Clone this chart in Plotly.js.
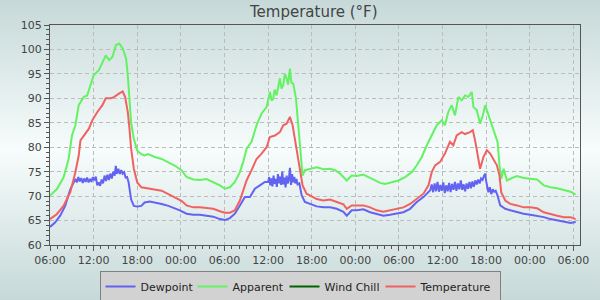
<!DOCTYPE html>
<html>
<head>
<meta charset="utf-8">
<script src="https://cdn.plot.ly/plotly-3.0.1.min.js"></script>
<style>
  html, body { margin: 0; padding: 0; }
  body { width: 600px; height: 300px; background: linear-gradient(to bottom, #c6d9d8 0%, #f7fcfc 50%, #c6d9d8 100%); }
  #chart { width: 600px; height: 300px; }
</style>
</head>
<body>
<div id="chart"></div>
<script>
// Hours since the first 06:00, and readings in °F
const startTime = '2023-07-10 06:00';

const dewHours = [0,0.7,1.4,2.09,2.79,3.49,3.7,3.9,4.1,4.3,4.5,4.7,4.9,5.1,5.3,5.5,5.7,5.9,6.1,6.3,6.5,6.7,6.9,7.1,7.3,7.5,7.7,7.9,8.1,8.3,8.5,8.7,8.9,9.05,9.2,9.4,9.6,9.8,10.0,10.2,10.4,10.6,10.8,11.16,11.53,12.0,12.56,13.02,13.72,14.42,15.35,16.28,17.21,17.86,18.78,19.7,20.61,21.53,22.45,23.37,24.06,24.74,25.43,26.12,26.81,27.5,28.18,28.87,29.56,30.0,30.15,30.3,30.45,30.6,30.75,30.9,31.05,31.2,31.35,31.5,31.65,31.8,31.95,32.1,32.25,32.4,32.55,32.7,32.85,33.0,33.15,33.3,33.45,33.6,33.75,33.9,34.05,34.3,34.61,35.06,35.75,36.69,37.61,38.52,39.44,40.36,40.82,41.5,42.19,43.11,44.03,44.94,45.86,46.78,47.7,48.61,49.53,50.45,51.37,52.1,52.3,52.5,52.7,52.9,53.1,53.3,53.5,53.7,53.9,54.1,54.3,54.5,54.7,54.9,55.1,55.3,55.5,55.7,55.9,56.1,56.3,56.5,56.7,56.9,57.1,57.3,57.5,57.7,57.9,58.1,58.3,58.5,58.7,58.9,59.1,59.3,59.5,59.7,59.85,60.0,60.1,60.3,60.5,60.7,60.9,61.1,61.3,61.56,61.93,62.62,63.31,64.23,65.15,66.07,67.0,67.92,68.84,69.76,70.68,71.6,72.3];
const dewVals  = [63.7,64.6,66,68,71.4,73.5,72.8,73.9,73.0,73.7,72.7,73.6,72.9,73.8,72.8,73.5,72.9,73.9,73.2,74.0,72.2,72.8,72.1,73.4,72.6,74.2,73.1,74.4,73.3,74.6,73.6,75.0,74.2,76.2,74.6,75.6,74.5,75.3,74.6,74.9,73.8,73.9,72.9,69.3,68,67.9,68,68.7,68.9,68.7,68.4,68,67.5,67.1,66.4,66.2,66.2,66,65.8,65.3,65.1,65.5,66.4,68.1,69.8,69.8,71.5,72.2,72.9,72.9,73.9,72.2,73.6,72.0,74.2,72.5,73.5,71.9,74.5,72.6,74.0,72.3,75.0,72.4,73.8,71.8,74.2,72.6,73.4,75.8,72.3,74.5,72.8,73.9,72.6,73.5,72.4,72.6,70.2,68.8,68.4,67.9,67.7,67.7,67.4,66.8,66,67.1,67.1,67.3,66.7,66.4,66,66.2,66.4,66.7,67.4,68.8,69.8,70.9,71.2,72.4,70.8,72.6,71.0,72.9,70.9,72.3,71.1,72.8,70.6,72.2,71.0,72.7,70.8,72.5,71.3,72.9,71.1,72.6,71.4,73.2,71.3,72.4,71.0,72.6,71.5,72.9,71.6,73.0,71.9,73.2,72.4,73.4,72.6,73.6,73.3,74.2,74.6,73.0,72.2,70.8,71.8,70.4,71.4,70.9,71.1,70.1,68.1,67.4,67.1,66.7,66.4,66.2,66,65.7,65.3,65,64.7,64.5,64.7];

const appHours = [0,0.93,1.86,2.56,3.02,3.49,3.95,4.65,5.12,5.58,6.0,6.74,7.21,7.67,8.14,8.6,9.07,9.53,10.0,10.47,10.7,10.93,11.16,11.53,12.0,12.56,13.02,13.49,14.42,15.35,16.28,17.21,18.14,18.78,19.7,20.61,21.53,22.45,23.37,24.06,24.74,25.43,26.12,26.58,27.04,27.72,28.41,29.1,29.79,30.25,30.5,30.71,30.9,31.17,31.4,31.62,31.85,32.08,32.3,32.54,32.75,33.0,33.2,33.46,33.83,34.15,34.47,34.74,35.06,35.75,36.69,37.61,38.52,39.21,39.9,40.82,41.5,42.19,43.11,43.8,44.49,45.4,46.09,47.01,47.93,48.84,49.76,50.45,51.14,51.83,52.51,53.2,53.89,54.32,54.78,55.24,55.71,56.17,56.63,57.09,57.55,58.01,58.24,58.7,59.16,59.53,59.85,60.31,60.77,61.24,61.56,61.83,62.06,62.39,62.85,63.54,64.23,65.15,66.07,66.99,67.92,68.84,69.76,70.68,71.6,72.3];
const appVals  = [70.1,71.4,73.8,77.6,82.4,84.5,88.6,90.3,90.6,93,94.7,95.8,97.5,98.8,97.8,98.5,100.9,101.2,100.2,98.1,94.7,90,85,81.7,79.3,78.6,78.3,78.6,78,77.6,76.9,76.2,75.2,73.9,73.4,73.3,73.5,72.9,72.2,71.5,71.8,72.9,74.9,77,79.7,81.1,84.5,86.9,88.2,91.3,89.5,90,91.8,90.6,92.5,94.1,92.0,92.7,95.0,94.1,92.8,96.1,93.2,93,90,84.5,79,74.2,75.3,75.6,75.9,75.5,75.6,75.3,74.6,73.2,74.2,74.1,74.4,73.9,73.4,72.7,72.5,72.9,73.2,73.9,74.9,76.3,78,80.4,82.4,84.5,85.5,84.5,87.2,88.6,86.5,90.3,89.6,90.6,90.3,91.3,88.2,87.6,84.8,86.5,88.6,86.5,84.5,82.4,81.1,76.3,73.5,75.6,73.2,73.7,74.1,73.7,73.5,73.4,72.2,71.8,71.6,71.2,70.9,70.3];

const tempHours = [0,0.93,1.86,2.79,3.49,3.95,4.19,4.88,5.35,5.81,6.51,7.21,7.67,8.37,8.84,9.53,10.0,10.33,10.7,10.93,11.16,11.53,12.0,12.56,13.49,14.42,15.35,16.28,17.21,18.14,18.78,19.7,20.61,21.53,22.45,23.37,24.06,24.74,25.43,26.12,26.58,27.04,27.72,28.41,29.1,29.79,30.25,30.94,31.62,32.08,32.54,33.0,33.37,33.69,34.01,34.38,34.74,35.29,36.21,36.69,37.61,38.52,39.44,40.36,40.82,41.5,42.19,43.11,44.03,44.94,45.86,46.78,47.7,48.61,49.53,50.45,51.37,52.06,52.51,52.97,53.66,54.32,55.01,55.47,55.94,56.63,57.09,57.78,58.15,58.47,58.79,59.16,59.62,60.08,60.54,61.0,61.47,61.83,62.06,62.62,63.31,64.23,65.15,66.07,67.0,67.92,68.84,69.76,70.68,71.6,72.3];
const tempVals  = [65.3,66.3,68,70.8,74.9,78.3,81.4,82.7,83.8,85.5,87.2,88.6,90,90,90.3,91,91.4,90.3,87.2,83.8,79.7,75.6,72.8,71.8,71.6,71.3,71.1,70.4,69.7,69.0,68.1,67.7,67.7,67.5,67.4,66.9,66.6,66.6,67.1,69.1,71.2,73.2,75.3,77.6,78.7,80,82.1,82.4,83.1,84.5,84.8,86.2,84.5,81.7,79,74.9,72.2,70.5,69.8,69.4,69.1,69.3,68.8,68.3,67.4,68.1,68.1,68.1,67.7,67.1,66.8,67.1,67.3,67.7,68.4,69.4,70.5,72.2,74.9,76.3,77,78.7,81.1,80.4,82.4,83.1,82.7,83.1,83.5,81.4,78.3,75.6,78,79.4,78.7,77.6,76.3,74.2,70.8,69.1,68.4,68.1,67.7,67.7,67.5,66.7,66.3,66,65.7,65.7,65.3];

// Wind Chill has no readings in this period
const windChillHours = [0];
const windChillVals = [null];

const seriesNames = ['Dewpoint', 'Apparent', 'Wind Chill', 'Temperature'];

const baseMs = Date.UTC(2023, 6, 10, 6, 0, 0);
const toX = hrs => hrs.map(h => baseMs + h * 3600000);

function tr(name, hrs, vals, color, lw) {
  return { type: 'scatter', mode: 'lines', name: name, x: toX(hrs), y: vals,
           line: { color: color, width: 2 }, hoverinfo: 'skip', showlegend: true,
           legendwidth: lw };
}

const data = [
  tr(seriesNames[0], dewHours, dewVals, '#6363f2', 47),
  tr(seriesNames[1], appHours, appVals, '#63f263', 47),
  tr(seriesNames[2], windChillHours, windChillVals, '#006400', 51),
  tr(seriesNames[3], tempHours, tempVals, '#f06262', 74)
];

const axisCol = '#555555';
const fam = 'DejaVu Sans, sans-serif';
const layout = {
  width: 600, height: 300,
  margin: { l: 50, r: 20, t: 25, b: 55 },
  paper_bgcolor: 'rgba(0,0,0,0)',
  plot_bgcolor: 'rgba(0,0,0,0)',
  font: { family: fam, size: 11, color: '#444' },
  title: { text: 'Temperature (°F)', xref: 'container', x: 0.523, xanchor: 'center',
           yref: 'container', y: 0.96, yanchor: 'middle',
           font: { family: fam, size: 15, color: '#444' } },
  showlegend: true,
  legend: {
    orientation: 'h', xref: 'container', x: 0.5, xanchor: 'center',
    yref: 'container', y: 0.097, yanchor: 'top',
    bgcolor: '#d2d2d2', bordercolor: '#808080', borderwidth: 1,
    font: { family: fam, size: 11, color: '#222' },
    itemwidth: 30
  },
  xaxis: {
    type: 'date',
    range: [baseMs, baseMs + 72.9 * 3600000],
    tick0: startTime, dtick: 6 * 3600000,
    tickformat: '%H:%M',
    ticks: 'outside', ticklen: 5, tickcolor: axisCol,
    showline: true, linecolor: axisCol, linewidth: 1, mirror: true,
    showgrid: true, gridcolor: '#bcbcbc', griddash: '4px,3px', gridwidth: 1,
    minor: { dtick: 3600000, ticks: 'outside', ticklen: 3, tickcolor: axisCol, showgrid: false },
    zeroline: false, automargin: false,
    tickfont: { family: fam, size: 11, color: '#444' }
  },
  yaxis: {
    range: [60, 105], dtick: 5, tick0: 60,
    ticks: 'outside', ticklen: 5, tickcolor: axisCol,
    showline: true, linecolor: axisCol, linewidth: 1, mirror: true,
    showgrid: true, gridcolor: '#bcbcbc', griddash: '4px,3px', gridwidth: 1,
    minor: { dtick: 1, ticks: 'outside', ticklen: 3, tickcolor: axisCol, showgrid: false },
    zeroline: false, automargin: false,
    tickfont: { family: fam, size: 11, color: '#444' }
  }
};

Plotly.newPlot('chart', data, layout, { staticPlot: true, displayModeBar: false });
</script>
</body>
</html>
